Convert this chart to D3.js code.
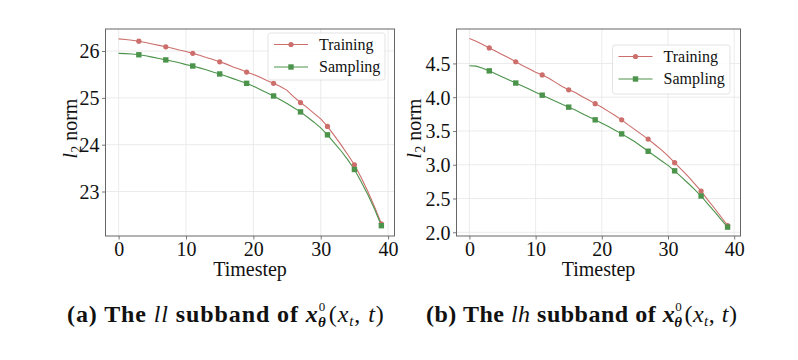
<!DOCTYPE html>
<html>
<head>
<meta charset="utf-8">
<script src="https://cdn.jsdelivr.net/npm/d3@7/dist/d3.min.js"></script>
<style>
  html, body { margin: 0; padding: 0; background: #fff; }
  svg { display: block; }
</style>
</head>
<body>
<svg id="chart" width="798" height="360"></svg>
<script>
// ---- Data ----
const timesteps = d3.range(0, 40);
const markerSteps = [3, 7, 11, 15, 19, 23, 27, 31, 35, 39];
const seriesNames = ["Training", "Sampling"];

const llTraining = [26.26, 26.245, 26.23, 26.21, 26.18, 26.15, 26.12, 26.09, 26.06, 26.02,
  25.99, 25.95, 25.91, 25.86, 25.82, 25.77, 25.72, 25.66, 25.61, 25.55,
  25.50, 25.44, 25.37, 25.31, 25.24, 25.16, 25.02, 24.90, 24.79, 24.67,
  24.55, 24.39, 24.20, 24.00, 23.79, 23.57, 23.30, 23.00, 22.67, 22.31];
const llSampling = [25.95, 25.945, 25.935, 25.92, 25.90, 25.87, 25.84, 25.81, 25.78, 25.75,
  25.71, 25.68, 25.64, 25.60, 25.55, 25.51, 25.46, 25.41, 25.36, 25.31,
  25.25, 25.18, 25.11, 25.04, 24.96, 24.88, 24.79, 24.70, 24.59, 24.48,
  24.36, 24.21, 24.04, 23.87, 23.68, 23.47, 23.21, 22.93, 22.62, 22.27];

const lhTraining = [4.87, 4.83, 4.78, 4.73, 4.68, 4.63, 4.58, 4.525, 4.47, 4.42,
  4.37, 4.33, 4.28, 4.22, 4.16, 4.11, 4.07, 4.01, 3.96, 3.905,
  3.85, 3.79, 3.73, 3.665, 3.59, 3.52, 3.45, 3.38, 3.30, 3.22,
  3.13, 3.03, 2.93, 2.83, 2.72, 2.61, 2.48, 2.36, 2.23, 2.10];
const lhSampling = [4.465, 4.46, 4.43, 4.39, 4.345, 4.30, 4.255, 4.21, 4.165, 4.12,
  4.075, 4.03, 3.985, 3.94, 3.895, 3.853, 3.81, 3.76, 3.71, 3.665,
  3.615, 3.565, 3.51, 3.457, 3.40, 3.34, 3.27, 3.20, 3.13, 3.06,
  2.99, 2.91, 2.82, 2.73, 2.635, 2.537, 2.42, 2.31, 2.19, 2.077];

const xTicks = [0, 10, 20, 30, 40];
const llYTicks = [23, 24, 25, 26];
const lhYTicks = [2.0, 2.5, 3.0, 3.5, 4.0, 4.5];

// ---- Styles ----
const colors = { Training: "#cc6e6b", Sampling: "#4c944c" };
const serif = "'Liberation Serif', 'Times New Roman', serif";
const svg = d3.select("#chart");

function drawPanel(opt) {
  const { left, right, top, bottom } = opt.frame;
  const x = d3.scaleLinear().domain([-1.95, 40.95]).range([left, right]);
  const y = d3.scaleLinear().domain(opt.yDomain).range([bottom, top]);
  const g = svg.append("g");

  // grid
  g.append("g").selectAll("line").data(xTicks).join("line")
    .attr("x1", d => x(d)).attr("x2", d => x(d)).attr("y1", top).attr("y2", bottom)
    .attr("stroke", "#e6e6e6").attr("stroke-width", 0.8);
  g.append("g").selectAll("line").data(opt.yTicks).join("line")
    .attr("y1", d => y(d)).attr("y2", d => y(d)).attr("x1", left).attr("x2", right)
    .attr("stroke", "#e6e6e6").attr("stroke-width", 0.8);

  // axes
  const xAxis = d3.axisBottom(x).tickValues(xTicks).tickSize(3.5).tickPadding(2).tickFormat(d3.format("d"));
  const yAxis = d3.axisLeft(y).tickValues(opt.yTicks).tickSize(3.5).tickPadding(2.5).tickFormat(opt.yFormat);
  const gx = g.append("g").attr("transform", `translate(0,${bottom})`).call(xAxis);
  const gy = g.append("g").attr("transform", `translate(${left},0)`).call(yAxis);
  [gx, gy].forEach(a => {
    a.attr("font-family", serif).attr("font-size", 20);
    a.select(".domain").remove();
    a.selectAll(".tick line").attr("stroke", "#555").attr("stroke-width", 0.8);
    a.selectAll(".tick text").attr("font-family", serif).attr("font-size", 20).attr("fill", "#111");
  });
  gx.selectAll(".tick text").attr("dy", "0.7em");
  gy.selectAll(".tick text").attr("dy", "0.34em");

  // frame
  g.append("rect").attr("x", left).attr("y", top).attr("width", right - left).attr("height", bottom - top)
    .attr("fill", "none").attr("stroke", "#666").attr("stroke-width", 1);

  // lines
  const line = d3.line().x((d, i) => x(timesteps[i])).y(d => y(d));
  const series = [
    { name: "Training", values: opt.training },
    { name: "Sampling", values: opt.sampling }
  ];
  series.forEach(s => {
    g.append("path").datum(s.values).attr("d", line)
      .attr("fill", "none").attr("stroke", colors[s.name]).attr("stroke-width", 1.1);
  });
  series.forEach(s => {
    const pts = markerSteps.map(t => ({ t, v: s.values[timesteps.indexOf(t)] }));
    if (s.name === "Training") {
      g.append("g").selectAll("circle").data(pts).join("circle")
        .attr("cx", d => x(d.t)).attr("cy", d => y(d.v)).attr("r", 2.6)
        .attr("fill", colors.Training);
    } else {
      g.append("g").selectAll("rect").data(pts).join("rect")
        .attr("x", d => x(d.t) - 2.7).attr("y", d => y(d.v) - 2.7)
        .attr("width", 5.4).attr("height", 5.4).attr("fill", colors.Sampling);
    }
  });

  // legend
  const L = opt.legend;
  g.append("rect").attr("x", L.x).attr("y", L.y).attr("width", L.w).attr("height", L.h)
    .attr("rx", 2.5).attr("fill", "#fff").attr("fill-opacity", 0.85)
    .attr("stroke", "#dcdcdc").attr("stroke-width", 0.8);
  seriesNames.forEach((name, i) => {
    const cy = L.y + 11.5 + i * 22.5;
    g.append("line").attr("x1", L.x + 6).attr("x2", L.x + 40).attr("y1", cy).attr("y2", cy)
      .attr("stroke", colors[name]).attr("stroke-width", 1.1);
    if (name === "Training") {
      g.append("circle").attr("cx", L.x + 23).attr("cy", cy).attr("r", 2.6).attr("fill", colors[name]);
    } else {
      g.append("rect").attr("x", L.x + 23 - 2.7).attr("y", cy - 2.7).attr("width", 5.4).attr("height", 5.4)
        .attr("fill", colors[name]);
    }
    g.append("text").attr("x", L.x + 51).attr("y", cy).attr("dy", "0.33em")
      .attr("font-family", serif).attr("font-size", 16).attr("fill", "#111").text(name);
  });

  // x label
  g.append("text").attr("x", (left + right) / 2).attr("y", 276).attr("text-anchor", "middle")
    .attr("font-family", serif).attr("font-size", 20).attr("fill", "#111").text("Timestep");

  // y label
  const yl = g.append("text").attr("transform", `translate(${opt.ylabelX},${(top + bottom) / 2 - 4}) rotate(-90)`)
    .attr("text-anchor", "middle").attr("font-family", serif).attr("font-size", 20).attr("fill", "#111");
  yl.append("tspan").attr("font-style", "italic").text("l");
  yl.append("tspan").attr("font-size", 14).attr("dy", 4).text("2");
  yl.append("tspan").attr("dy", -4).text(" norm");

  // caption
  const c = svg.append("text").attr("x", opt.captionX).attr("y", 322)
    .attr("font-family", serif).attr("font-size", 24).attr("font-weight", "bold")
    .attr("letter-spacing", opt.captionSpacing).attr("fill", "#111");
  c.append("tspan").text(opt.captionPrefix + " The ");
  c.append("tspan").attr("font-style", "italic").attr("font-weight", "normal").text(opt.band);
  c.append("tspan").text(" subband of ");
  c.append("tspan").attr("font-style", "italic").text("x");
  c.append("tspan").attr("font-size", 13).attr("font-weight", "normal").attr("dy", -11).text("0");
  c.append("tspan").attr("font-size", 15).attr("font-style", "italic").attr("dx", -8).attr("dy", 16).text("θ");
  c.append("tspan").attr("font-weight", "normal").attr("dx", 2).attr("dy", -5).text("(");
  c.append("tspan").attr("font-style", "italic").attr("font-weight", "normal").text("x");
  c.append("tspan").attr("font-style", "italic").attr("font-weight", "normal").attr("font-size", 15).attr("dy", 4).text("t");
  c.append("tspan").attr("font-weight", "normal").attr("dy", -4).text(", ");
  c.append("tspan").attr("font-style", "italic").attr("font-weight", "normal").text("t");
  c.append("tspan").attr("font-weight", "normal").text(")");
}

drawPanel({
  frame: { left: 105.5, right: 394.5, top: 29, bottom: 236 },
  yDomain: [22.05, 26.47],
  yTicks: llYTicks,
  yFormat: d3.format("d"),
  training: llTraining,
  sampling: llSampling,
  legend: { x: 268, y: 33, w: 117, h: 47 },
  ylabelX: 77,
  captionX: 67,
  captionSpacing: 0.9,
  captionPrefix: "(a)",
  band: "ll"
});

drawPanel({
  frame: { left: 456.5, right: 740.5, top: 29, bottom: 236 },
  yDomain: [1.945, 5.01],
  yTicks: lhYTicks,
  yFormat: d3.format(".1f"),
  training: lhTraining,
  sampling: lhSampling,
  legend: { x: 612.5, y: 45, w: 117.5, h: 49 },
  ylabelX: 421,
  captionX: 426,
  captionSpacing: 0.5,
  captionPrefix: "(b)",
  band: "lh"
});
</script>
</body>
</html>
